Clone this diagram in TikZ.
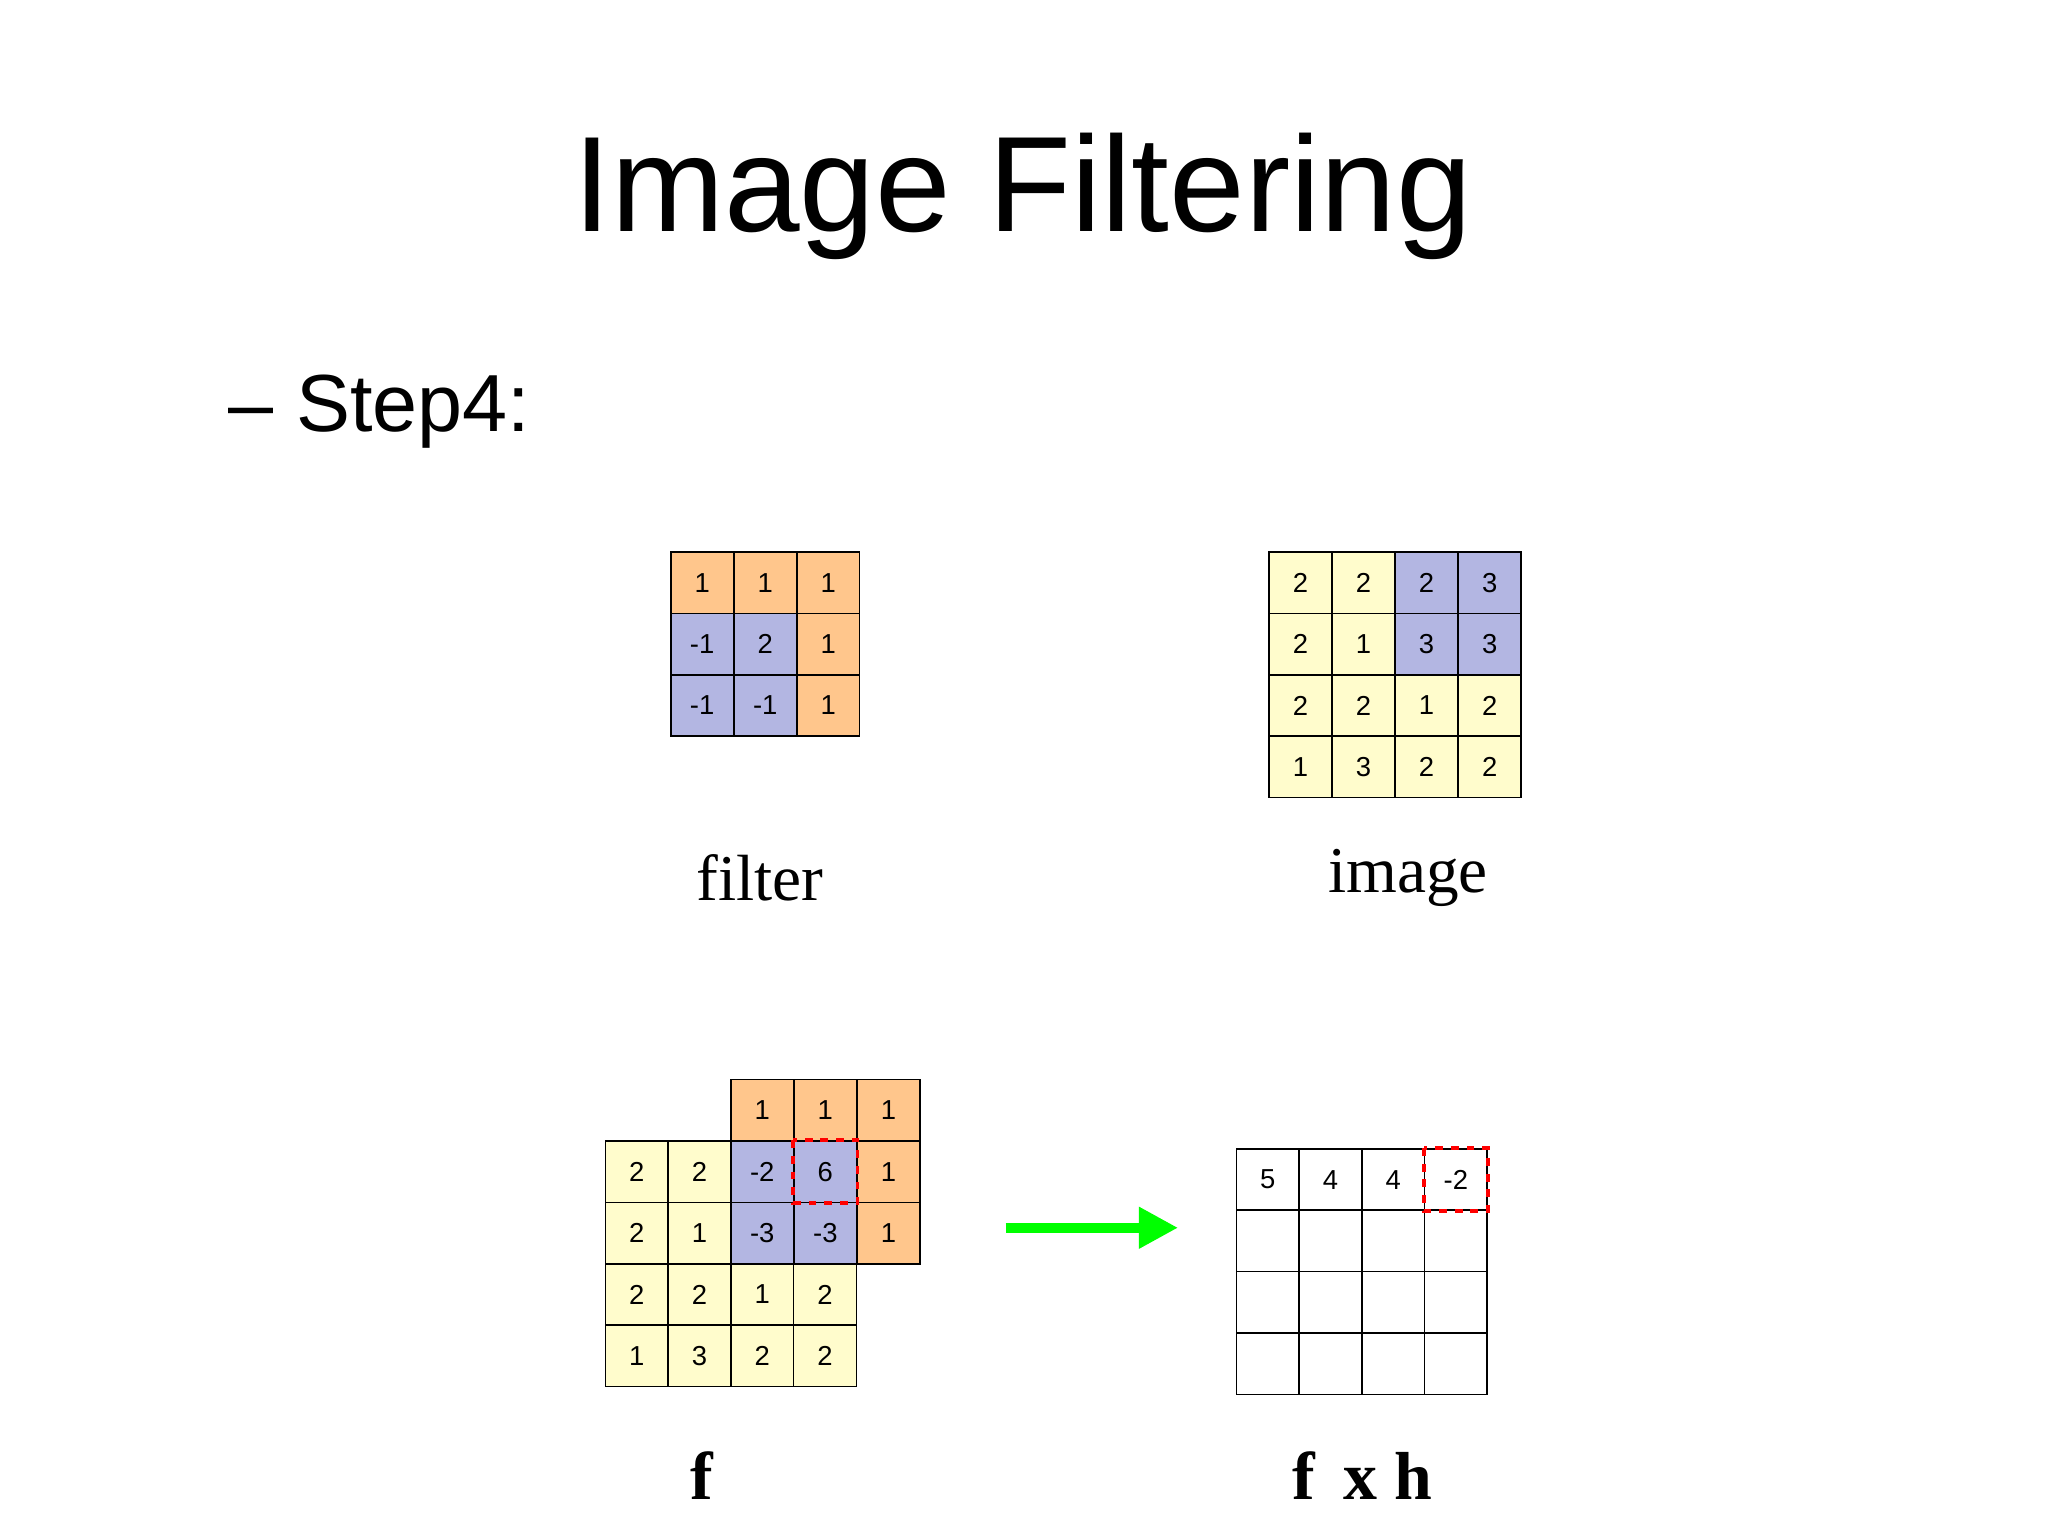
\documentclass[tikz,border=0pt]{standalone}
\usepackage{fontspec}
\usetikzlibrary{arrows.meta}
\setmainfont{Liberation Serif}
\setsansfont{Liberation Sans}
\begin{document}
\begin{tikzpicture}[x=0.5pt,y=-0.5pt,
  cell/.style={draw=black,line width=0.6pt,minimum width=24pt,minimum height=23.5pt,inner sep=0pt,anchor=north west,font=\sffamily\fontsize{10.5}{12}\selectfont},
  org/.style={cell,fill=orange!45!white},
  blu/.style={cell,fill=cyan!25!blue!30!white},
  yel/.style={cell,fill=yellow!20!white},
  wht/.style={cell,fill=white},
  hl/.style={draw=red,dashed,line width=1.5pt}]
\useasboundingbox (0,0) rectangle (1568,1176);
\node[font=\sffamily\fontsize{52}{60}\selectfont] (title) at (783,150) {Image Filtering};
\node[font=\sffamily\fontsize{31}{36}\selectfont,anchor=west] (step) at (168,315) {– Step4:};
% filter
\foreach \r/\c/\v/\s in {0/0/1/org,0/1/1/org,0/2/1/org,1/0/-1/blu,1/1/2/blu,1/2/1/org,2/0/-1/blu,2/1/-1/blu,2/2/1/org}
  \node[\s] (f\r\c) at (513+48.3*\c,422+47*\r) {\v};
% image
\foreach \r/\c/\v/\s in {0/0/2/yel,0/1/2/yel,0/2/2/blu,0/3/3/blu,1/0/2/yel,1/1/1/yel,1/2/3/blu,1/3/3/blu,2/0/2/yel,2/1/2/yel,2/2/1/yel,2/3/2/yel,3/0/1/yel,3/1/3/yel,3/2/2/yel,3/3/2/yel}
  \node[\s] (i\r\c) at (971+48.3*\c,422+47*\r) {\v};
\node[font=\fontsize{25}{30}\selectfont] (lf) at (582,672) {filter};
\node[font=\fontsize{25}{30}\selectfont] (li) at (1078,672) {image};
% bottom image
\foreach \r/\c/\v in {0/0/2,0/1/2,1/0/2,1/1/1,2/0/2,2/1/2,2/2/1,2/3/2,3/0/1,3/1/3,3/2/2,3/3/2}
  \node[yel] (b\r\c) at (463+48*\c,873+47*\r) {\v};
% overlay filter
\foreach \r/\c/\v/\s in {0/0/1/org,0/1/1/org,0/2/1/org,1/0/-2/blu,1/1/6/blu,1/2/1/org,2/0/-3/blu,2/1/-3/blu,2/2/1/org}
  \node[\s] (o\r\c) at (559+48.3*\c,826+47*\r) {\v};
\draw[hl] (o11.north west) rectangle (o11.south east);
% result
\foreach \r in {0,...,3}{\foreach \c in {0,...,3}{\node[wht] (r\r\c) at (946+48*\c,879+47*\r) {};}}
\node[font=\sffamily\fontsize{10.5}{12}\selectfont] at (r00) {5};
\node[font=\sffamily\fontsize{10.5}{12}\selectfont] at (r01) {4};
\node[font=\sffamily\fontsize{10.5}{12}\selectfont] at (r02) {4};
\node[font=\sffamily\fontsize{10.5}{12}\selectfont] at (r03) {-2};
\draw[hl] (r03.north west) rectangle (r03.south east);
\coordinate (a1) at (770,940); \coordinate (a2) at (902,940);
\draw[line width=4pt,green,-{Triangle[length=15pt,width=15pt]}] (a1) -- (a2);
\node[font=\bfseries\fontsize{26}{30}\selectfont] (lff) at (537,1130) {f};
\node[font=\bfseries\fontsize{26}{30}\selectfont] (lfh) at (1043,1130) {f\, x h};
\end{tikzpicture}
\end{document}
